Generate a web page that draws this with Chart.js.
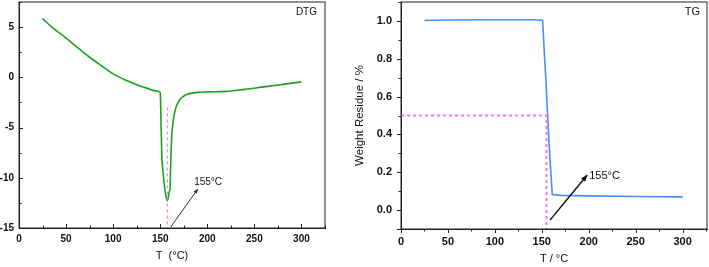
<!DOCTYPE html>
<html>
<head>
<meta charset="utf-8">
<script src="https://cdn.jsdelivr.net/npm/chart.js@4"></script>
<style>
  html, body { margin: 0; padding: 0; background: #fff; }
  .box { position: absolute; top: 0; height: 267px; }
  #leftBox { left: 0; width: 350px; }
  #rightBox { left: 350px; width: 359px; }
</style>
</head>
<body>
<div class="box" id="leftBox"><canvas id="dtgChart"></canvas></div>
<div class="box" id="rightBox"><canvas id="tgChart"></canvas></div>
<script>
// DTG curve (temperature in °C, derivative)
const dtgT = [25, 35, 50, 65, 75, 90, 100, 115, 125, 135, 145, 150, 150.5, 151.6, 153, 155, 156.5, 157.5, 158.5, 159.5, 160.4, 161, 162.2, 164, 166, 171, 178, 190, 200, 220, 240, 260, 280, 300];
const dtgV = [5.85, 5.0, 3.9, 2.75, 2.0, 1.0, 0.35, -0.35, -0.75, -1.05, -1.35, -1.5, -3.0, -7.6, -9.5, -11.2, -12.0, -12.3, -12.0, -11.4, -11.1, -9.0, -5.9, -4.2, -3.2, -2.2, -1.7, -1.5, -1.45, -1.4, -1.2, -0.95, -0.7, -0.45];

// TG curve (temperature in °C, weight residue)
const tgT = [25, 50, 100, 140, 150.9, 152.5, 154.4, 156, 158, 160, 161.2, 170, 200, 250, 300];
const tgW = [1.002, 1.005, 1.006, 1.006, 1.004, 0.85, 0.687, 0.52, 0.33, 0.17, 0.082, 0.078, 0.075, 0.072, 0.07];

// dashed marker lines
const dtgMarkT = [157.5, 157.5];
const dtgMarkV = [-3, -15];
const tgMarkT = [0, 155, 155];
const tgMarkW = [0.5, 0.5, -0.1];

// arrows [x1, y1, x2, y2] and label
const dtgArrow = [161.2, -14.9, 190, -11.1];
const tgArrow = [158.7, -0.053, 198.4, 0.185];
const peakLabel = '155°C';
const dtgLabelAt = [186, -10.4];
const tgLabelAt = [200.5, 0.18];

// axis ticks
const dtgXTicks = [0, 50, 100, 150, 200, 250, 300];
const dtgYTicks = [-15, -10, -5, 0, 5];
const tgXTicks = [0, 50, 100, 150, 200, 250, 300];
const tgYTicks = [0, 0.2, 0.4, 0.6, 0.8, 1.0];

const FONT = 'Arial, "Liberation Sans", sans-serif';

function pts(xs, ys) {
  return xs.map((x, i) => ({ x: x, y: ys[i] }));
}

function keepTicks(list) {
  return function(scale) {
    scale.ticks = list.map(v => ({ value: v }));
  };
}

function noPad(scale) {
  scale.paddingTop = 0;
  scale.paddingBottom = 0;
  scale.paddingLeft = 0;
  scale.paddingRight = 0;
}

// frame, small tick marks, arrow and labels
const decorPlugin = {
  id: 'decor',
  afterDraw(chart, args, opts) {
    const ctx = chart.ctx;
    const a = chart.chartArea;
    const xs = chart.scales.x;
    const ys = chart.scales.y;
    ctx.save();
    ctx.strokeStyle = '#222';
    ctx.lineWidth = 1;
    ctx.strokeRect(a.left, a.top, a.right - a.left, a.bottom - a.top);

    const dir = opts.inward ? -1 : 1;
    ctx.beginPath();
    const xMajor = opts.xTicks;
    const xStep = xMajor[1] - xMajor[0];
    xMajor.forEach(v => {
      const px = Math.round(xs.getPixelForValue(v)) + 0.5;
      ctx.moveTo(px, a.bottom);
      ctx.lineTo(px, a.bottom + dir * 4);
      const m = v + xStep / 2;
      if (m <= xs.max) {
        const pm = Math.round(xs.getPixelForValue(m)) + 0.5;
        ctx.moveTo(pm, a.bottom);
        ctx.lineTo(pm, a.bottom + dir * 2.5);
      }
    });
    const yMajor = opts.yTicks;
    const yStep = yMajor[1] - yMajor[0];
    const yAll = [yMajor[0] - yStep / 2].concat(yMajor);
    yAll.forEach(v => {
      if (v >= ys.min) {
        const py = Math.round(ys.getPixelForValue(v)) + 0.5;
        ctx.moveTo(a.left, py);
        ctx.lineTo(a.left - dir * 4, py);
      }
      const m = v + yStep / 2;
      if (m <= ys.max && m >= ys.min) {
        const pm = Math.round(ys.getPixelForValue(m)) + 0.5;
        ctx.moveTo(a.left, pm);
        ctx.lineTo(a.left - dir * 2.5, pm);
      }
    });
    ctx.stroke();

    // arrow
    const ar = opts.arrow;
    const x1 = xs.getPixelForValue(ar[0]), y1 = ys.getPixelForValue(ar[1]);
    const x2 = xs.getPixelForValue(ar[2]), y2 = ys.getPixelForValue(ar[3]);
    ctx.strokeStyle = opts.arrowColor;
    ctx.fillStyle = opts.arrowColor;
    ctx.lineWidth = opts.arrowWidth;
    ctx.beginPath();
    ctx.moveTo(x1, y1);
    ctx.lineTo(x2, y2);
    ctx.stroke();
    const ang = Math.atan2(y2 - y1, x2 - x1);
    const hl = opts.headLen;
    ctx.beginPath();
    ctx.moveTo(x2, y2);
    ctx.lineTo(x2 - hl * Math.cos(ang - 0.4), y2 - hl * Math.sin(ang - 0.4));
    ctx.lineTo(x2 - hl * Math.cos(ang + 0.4), y2 - hl * Math.sin(ang + 0.4));
    ctx.closePath();
    ctx.fill();

    // labels
    ctx.fillStyle = '#111';
    ctx.font = opts.labelFont;
    ctx.textBaseline = 'middle';
    ctx.textAlign = 'left';
    ctx.fillText(peakLabel, xs.getPixelForValue(opts.labelAt[0]), ys.getPixelForValue(opts.labelAt[1]));
    ctx.textAlign = 'right';
    ctx.fillText(opts.tag, a.right - opts.tagRight, a.top + opts.tagTop);
    ctx.restore();
  }
};

Chart.defaults.font.family = FONT;
Chart.defaults.color = '#111';

new Chart(document.getElementById('dtgChart'), {
  type: 'line',
  data: {
    datasets: [
      {
        data: pts(dtgMarkT, dtgMarkV),
        borderColor: '#f070d0',
        borderWidth: 1,
        borderDash: [3, 3],
        pointRadius: 0
      },
      {
        data: pts(dtgT, dtgV),
        borderColor: '#1ea01e',
        borderWidth: 1.6,
        pointRadius: 0,
        cubicInterpolationMode: 'monotone'
      }
    ]
  },
  options: {
    responsive: true,
    maintainAspectRatio: false,
    animation: false,
    layout: { padding: { top: 2, right: 25, left: 0, bottom: 0 } },
    plugins: {
      legend: { display: false },
      tooltip: { enabled: false },
      decor: {
        inward: true,
        xTicks: dtgXTicks,
        yTicks: dtgYTicks,
        arrow: dtgArrow,
        arrowColor: '#333',
        arrowWidth: 1,
        headLen: 5,
        labelAt: dtgLabelAt,
        labelFont: '10px ' + FONT,
        tag: 'DTG',
        tagRight: 8,
        tagTop: 10
      }
    },
    scales: {
      x: {
        type: 'linear',
        min: 0,
        max: 325,
        afterBuildTicks: keepTicks(dtgXTicks),
        afterFit(scale) { scale.height = 39; noPad(scale); },
        grid: { display: false, drawTicks: false },
        border: { color: '#222' },
        ticks: { padding: 5, font: { size: 10, weight: 'bold' } },
        title: { display: true, text: 'T  (°C)', font: { size: 11 }, padding: { top: 4, bottom: 4 } }
      },
      y: {
        min: -15,
        max: 7.5,
        afterBuildTicks: keepTicks(dtgYTicks),
        afterFit(scale) { scale.width = 19; noPad(scale); },
        grid: { display: false, drawTicks: false },
        border: { color: '#222' },
        ticks: { padding: 5, font: { size: 10, weight: 'bold' } }
      }
    }
  },
  plugins: [decorPlugin]
});

new Chart(document.getElementById('tgChart'), {
  type: 'line',
  data: {
    datasets: [
      {
        data: pts(tgMarkT, tgMarkW),
        borderColor: '#ff70f0',
        borderWidth: 2,
        borderDash: [3, 3],
        pointRadius: 0
      },
      {
        data: pts(tgT, tgW),
        borderColor: '#4a8cff',
        borderWidth: 1.6,
        pointRadius: 0
      }
    ]
  },
  options: {
    responsive: true,
    maintainAspectRatio: false,
    animation: false,
    layout: { padding: { top: 2, right: 2, left: 0, bottom: 0 } },
    plugins: {
      legend: { display: false },
      tooltip: { enabled: false },
      decor: {
        inward: false,
        xTicks: tgXTicks,
        yTicks: tgYTicks,
        arrow: tgArrow,
        arrowColor: '#111',
        arrowWidth: 1.5,
        headLen: 7,
        labelAt: tgLabelAt,
        labelFont: '11px ' + FONT,
        tag: 'TG',
        tagRight: 7,
        tagTop: 10
      }
    },
    scales: {
      x: {
        type: 'linear',
        min: 0,
        max: 326,
        afterBuildTicks: keepTicks(tgXTicks),
        afterFit(scale) { scale.height = 38; noPad(scale); },
        grid: { display: false, drawTicks: false },
        border: { color: '#222' },
        ticks: { padding: 6, font: { size: 11, weight: 'bold' } },
        title: { display: true, text: 'T / °C', font: { size: 11 }, padding: { top: 4, bottom: 1 } }
      },
      y: {
        min: -0.1,
        max: 1.1,
        afterBuildTicks: keepTicks(tgYTicks),
        afterFit(scale) { scale.width = 51; noPad(scale); },
        grid: { display: false, drawTicks: false },
        border: { color: '#222' },
        ticks: {
          padding: 9,
          font: { size: 11, weight: 'bold' },
          callback: v => Number(v).toFixed(1)
        },
        title: { display: true, text: 'Weight Residue / %', font: { size: 11.5 }, padding: { top: 3, bottom: 0 } }
      }
    }
  },
  plugins: [decorPlugin]
});
</script>
</body>
</html>
